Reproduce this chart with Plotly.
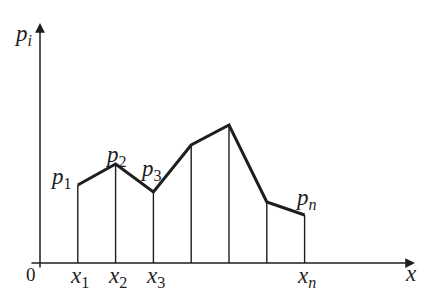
import plotly.graph_objects as go

# data
x_pos = [1, 2, 3, 4, 5, 6, 7]
p_vals = [7.8, 9.9, 7.1, 11.8, 13.8, 6.1, 4.8]
x_labels = {1: "<i>x</i><sub>1</sub>", 2: "<i>x</i><sub>2</sub>", 3: "<i>x</i><sub>3</sub>",
            7: "<i>x</i><sub><i>n</i></sub>"}
p_labels = {0: ("<i>p</i><sub>1</sub>", -17, 7), 1: ("<i>p</i><sub>2</sub>", 0, 8),
            2: ("<i>p</i><sub>3</sub>", -2, 22), 6: ("<i>p</i><sub><i>n</i></sub>", 1, 16)}

INK = "#1e1e1e"
FONT = "Liberation Serif"

fig = go.Figure()

# vertical lines
vx, vy = [], []
for xv, pv in zip(x_pos, p_vals):
    vx += [xv, xv, None]
    vy += [0, pv, None]
fig.add_trace(go.Scatter(x=vx, y=vy, mode="lines", line=dict(color=INK, width=1.4),
                         hoverinfo="skip", showlegend=False))
# polyline
fig.add_trace(go.Scatter(x=x_pos, y=p_vals, mode="lines", line=dict(color=INK, width=3),
                         hoverinfo="skip", showlegend=False))

ann = []
# axes with arrows
ann.append(dict(x=9.92, y=0, ax=-0.265, ay=0, xref="x", yref="y", axref="x", ayref="y",
                showarrow=True, arrowhead=2, arrowsize=1.3, arrowwidth=1.5, arrowcolor=INK, text=""))
ann.append(dict(x=0, y=24.0, ax=0, ay=-0.6, xref="x", yref="y", axref="x", ayref="y",
                showarrow=True, arrowhead=2, arrowsize=1.3, arrowwidth=1.5, arrowcolor=INK, text=""))

tf = dict(family=FONT, size=23, color=INK)
for xv, t in x_labels.items():
    ann.append(dict(x=xv, y=0, xref="x", yref="y", text=t, showarrow=False,
                    font=tf, xanchor="center", yanchor="middle", xshift=2, yshift=-14))
for i, (t, dx, dy) in p_labels.items():
    ann.append(dict(x=x_pos[i], y=p_vals[i], xref="x", yref="y", text=t,
                    showarrow=False, font=tf, xanchor="center", yanchor="middle",
                    xshift=dx, yshift=dy))
ann.append(dict(x=0, y=0, xref="x", yref="y", text="0", showarrow=False,
                font=dict(family=FONT, size=19, color=INK),
                xanchor="center", yanchor="middle", xshift=-9, yshift=-11))
ann.append(dict(x=9.81, y=0, xref="x", yref="y", text="<i>x</i>", showarrow=False, font=tf,
                xanchor="center", yanchor="middle", yshift=-10))
ann.append(dict(x=0, y=24.0, xref="x", yref="y", text="<i>p</i><sub><i>i</i></sub>", showarrow=False,
                font=tf, xanchor="center", yanchor="middle", xshift=-17, yshift=-12))

fig.update_layout(
    width=437, height=296, margin=dict(l=0, r=0, t=0, b=0),
    paper_bgcolor="white", plot_bgcolor="white",
    font=dict(family=FONT),
    xaxis=dict(range=[-1.0582, 10.5026], visible=False),
    yaxis=dict(range=[-3.3, 26.3], visible=False),
    annotations=ann,
)
fig.write_html("out.html")
